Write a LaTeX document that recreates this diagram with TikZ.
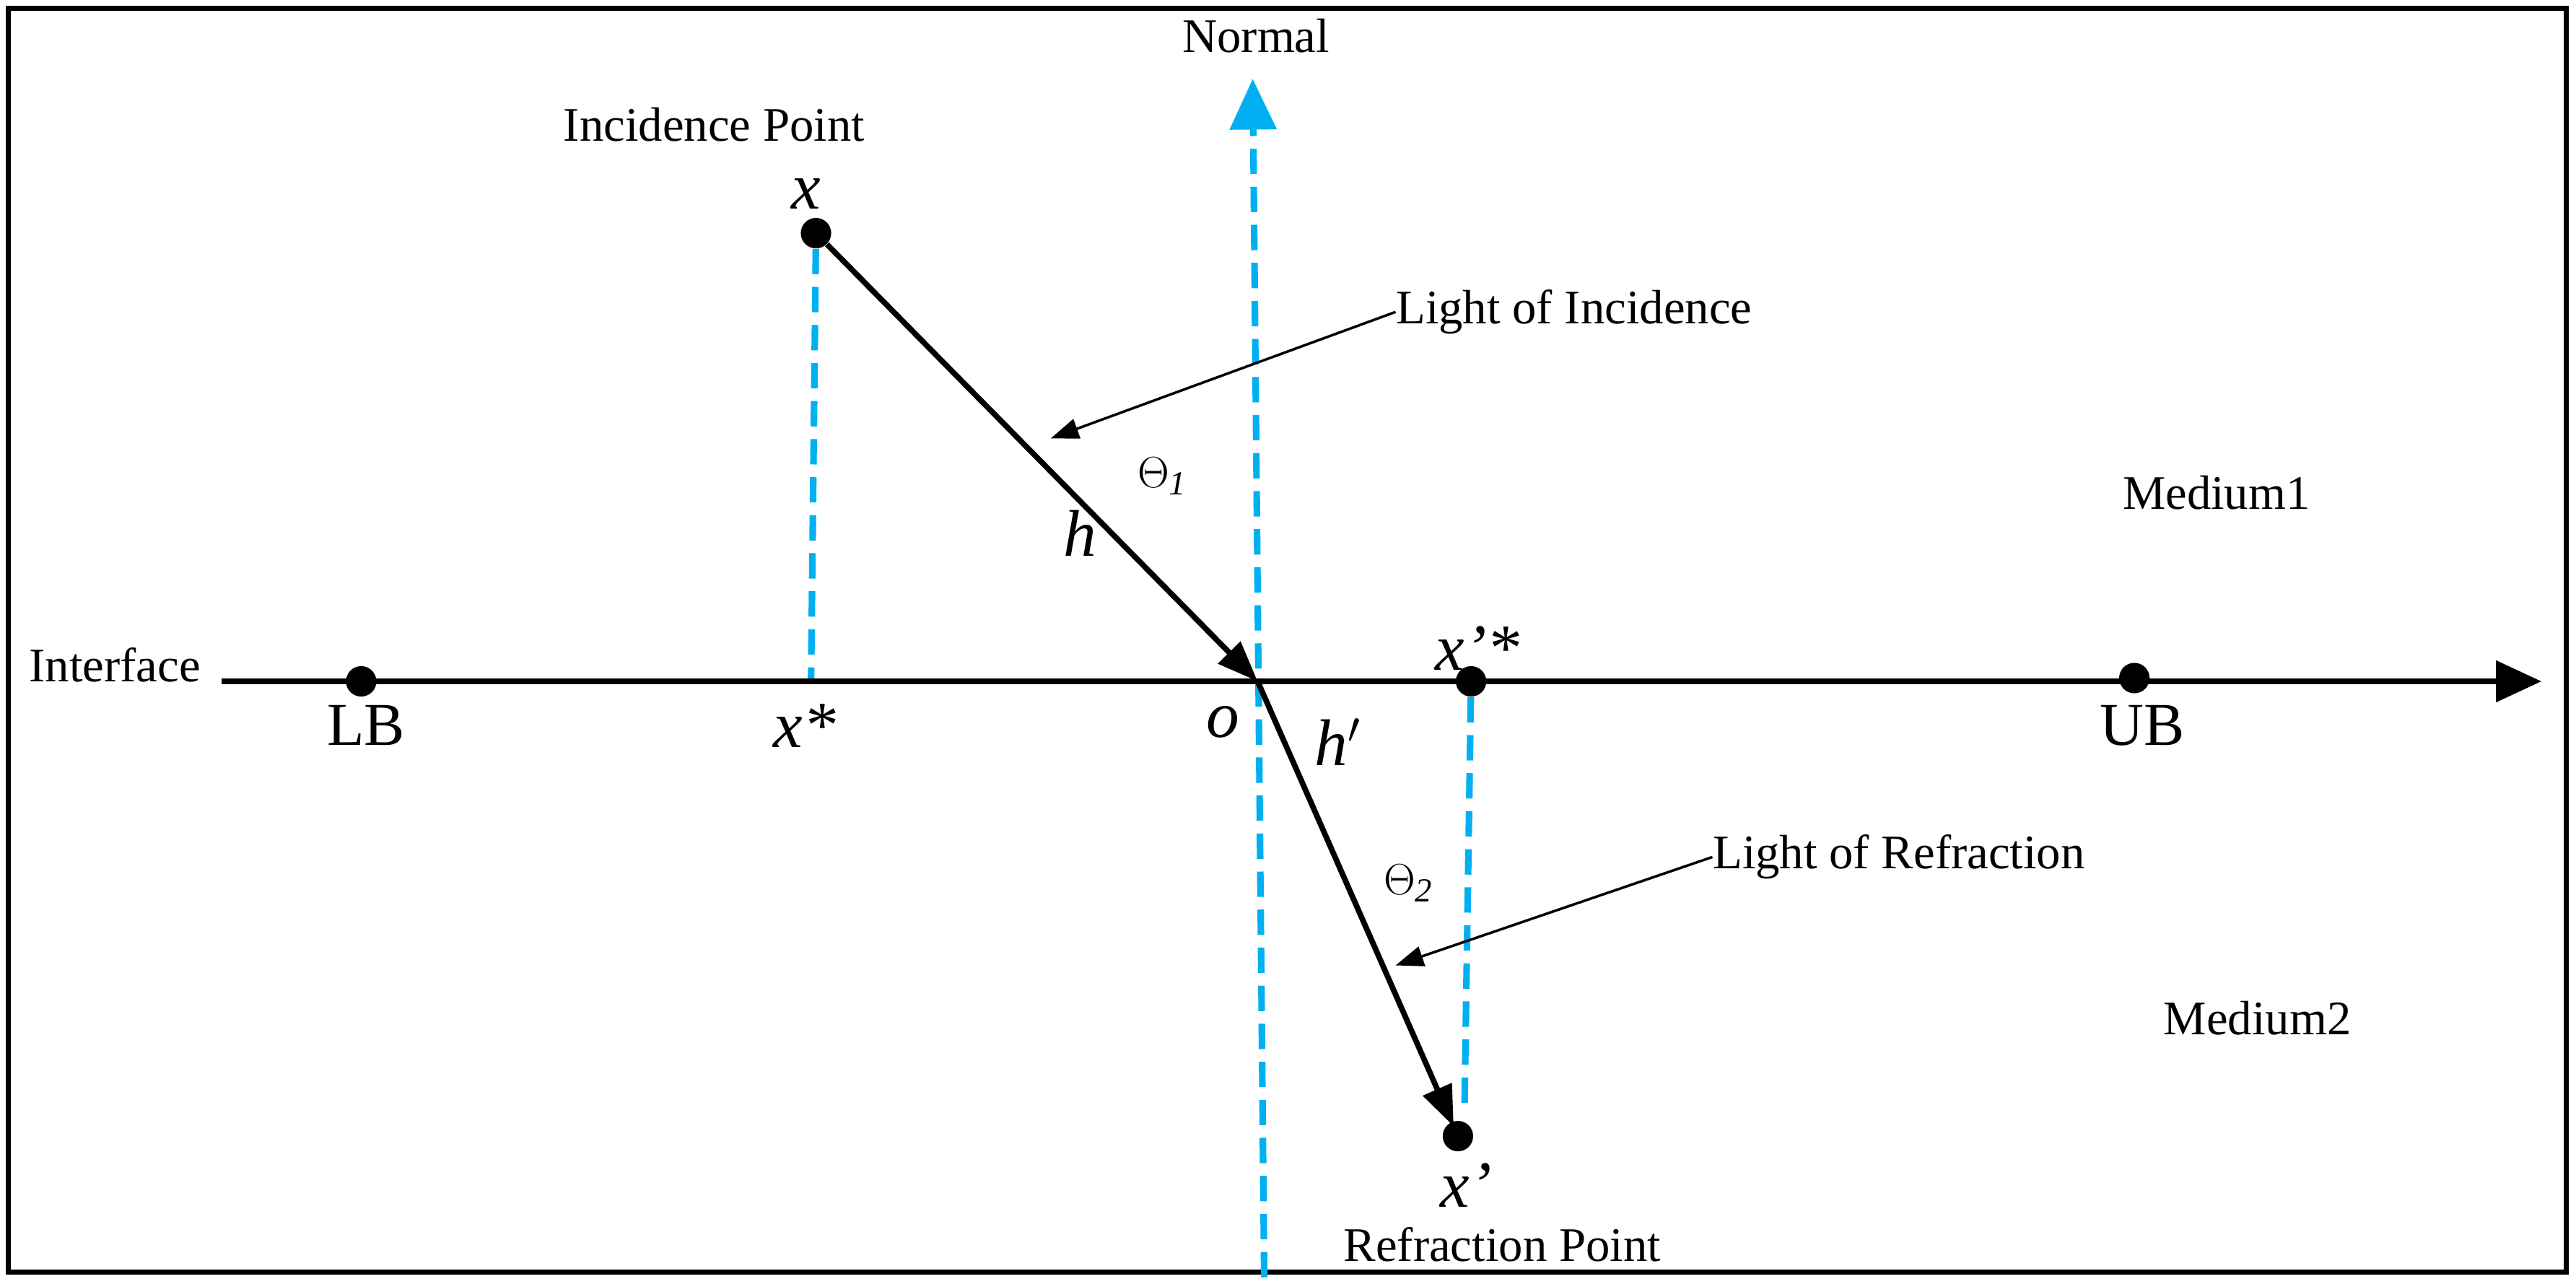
\documentclass[tikz,border=0pt]{standalone}
\usepackage{fontspec}
\setmainfont{Liberation Serif}
\usetikzlibrary{arrows.meta}
\definecolor{cy}{RGB}{0,176,240}
\begin{document}
\begin{tikzpicture}[x=0.02275cm,y=-0.02275cm,
  lbl/.style={inner sep=0pt,font=\fontsize{19}{19}\selectfont},
  big/.style={inner sep=0pt,font=\fontsize{24}{24}\selectfont},
  mth/.style={inner sep=0pt,font=\fontsize{26}{26}\selectfont\itshape},
  cdash/.style={draw=cy,line width=2.6pt,dash pattern=on 10pt off 5pt},
  ray/.style={draw=black,line width=2.2pt,-{Triangle[length=16pt,width=12pt]}},
  thinarr/.style={draw=black,line width=1pt,-{Triangle[length=11pt,width=8pt]}},
  dot/.style={circle,fill=black,inner sep=0pt,minimum size=12pt}]
\useasboundingbox (0,0) rectangle (1569,782);
\draw[line width=2pt] (5,5) rectangle (1563,775);
% coordinates
\coordinate (axL) at (135,415);
\coordinate (axR) at (1548,415);
\node[dot] (LB) at (220,415) {};
\node[dot] (UB) at (1300,413) {};
\node[dot] (X) at (497,142) {};
\coordinate (XS) at (494,415);
\coordinate (O) at (766,415);
\node[dot] (XPS) at (896,415) {};
\coordinate (XPSb) at (892,675);
\node[dot] (XP) at (888,692) {};
\coordinate (Nb) at (770,778);
\coordinate (Nt) at (763,48);
% dashed lines
\draw[cdash] (X) -- (XS);
\draw[cdash] (XPS) -- (XPSb);
\draw[cdash,-{Triangle[length=20pt,width=18pt]}] (Nb) -- (Nt);
% axis
\draw[line width=2.4pt,-{Triangle[length=18pt,width=16pt]}] (axL) -- (axR);
% rays
\draw[ray] (X) -- (O);
\draw[ray,shorten >=-2pt] (O) -- (XP);
% labels
\node[lbl] (nl) at (765,22) {Normal};
\node[lbl] (ipl) at (435,76) {Incidence Point};
\node[mth] (xl) at (491,118) {x};
\node[big] (lbl) at (223,442) {LB};
\node[big] (ubl) at (1305,442) {UB};
\node[mth] (xsl) at (490,442) {x*};
\node[mth] (ol) at (745,440) {o};
\node[mth] (xpsl) at (900,395) {x'*};
\node[mth] (hl) at (658,325) {h};
\node[mth] (hpl) at (815,452) {h$'$};
\node[lbl] (t1) at (708,290) {$\Theta_{\mathit{1}}$};
\node[lbl] (t2) at (858,538) {$\Theta_{\mathit{2}}$};
\node[mth] (xpl) at (893,722) {x'};
\node[lbl] (rpl) at (915,758) {Refraction Point};
\node[lbl,anchor=west] (loi) at (850,190) {Light of Incidence};
\node[lbl,anchor=west] (lor) at (1043,522) {Light of Refraction};
\node[lbl] (m1) at (1350,300) {Medium1};
\node[lbl] (m2) at (1375,620) {Medium2};
\node[lbl] (ifl) at (70,405) {Interface};
\draw[thinarr] (loi.west) -- (640,267);
\draw[thinarr] (lor.west) -- (850,588);
\end{tikzpicture}
\end{document}
